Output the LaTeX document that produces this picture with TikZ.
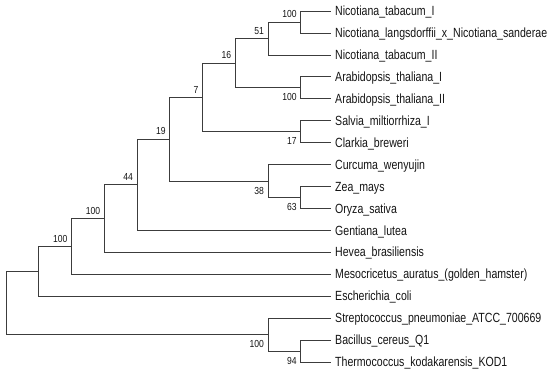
\documentclass[tikz,border=0pt]{standalone}
\usepackage{fontspec}
\newfontfamily\leaffont{Liberation Sans}[FakeStretch=0.795]
\newfontfamily\bsfont{Liberation Sans}[FakeStretch=0.84]
\usetikzlibrary{calc}
\definecolor{edgecol}{RGB}{60,60,60}
\definecolor{txtcol}{RGB}{20,20,20}
\begin{document}
\begin{tikzpicture}[x=1pt,y=-1pt,
  edge/.style={draw=edgecol,line width=0.8pt},
  leaf/.style={anchor=west,inner xsep=4pt,inner ysep=0pt,text height=9.5pt,text depth=0pt,
    font=\leaffont\fontsize{13.3}{14}\selectfont,text=txtcol},
  bsup/.style={anchor=base east,inner sep=0pt,font=\bsfont\fontsize{10.2}{11}\selectfont,text=txtcol},
  bsdown/.style={anchor=base east,inner sep=0pt,font=\bsfont\fontsize{10.2}{11}\selectfont,text=txtcol}]
\useasboundingbox (0,0) rectangle (550,373);
% leaves
\node[leaf] (l1) at (331,11) {Nicotiana\_tabacum\_I};
\node[leaf] (l2) at (331,32.9) {Nicotiana\_langsdorffii\_x\_Nicotiana\_sanderae};
\node[leaf] (l3) at (331,54.9) {Nicotiana\_tabacum\_II};
\node[leaf] (l4) at (331,76.8) {Arabidopsis\_thaliana\_I};
\node[leaf] (l5) at (331,98.7) {Arabidopsis\_thaliana\_II};
\node[leaf] (l6) at (331,120.7) {Salvia\_miltiorrhiza\_I};
\node[leaf] (l7) at (331,142.6) {Clarkia\_breweri};
\node[leaf] (l8) at (331,164.5) {Curcuma\_wenyujin};
\node[leaf] (l9) at (331,186.4) {Zea\_mays};
\node[leaf] (l10) at (331,208.4) {Oryza\_sativa};
\node[leaf] (l11) at (331,230.3) {Gentiana\_lutea};
\node[leaf] (l12) at (331,252.2) {Hevea\_brasiliensis};
\node[leaf] (l13) at (331,274.2) {Mesocricetus\_auratus\_(golden\_hamster)};
\node[leaf] (l14) at (331,296.1) {Escherichia\_coli};
\node[leaf] (l15) at (331,318) {Streptococcus\_pneumoniae\_ATCC\_700669};
\node[leaf] (l16) at (331,339.9) {Bacillus\_cereus\_Q1};
\node[leaf] (l17) at (331,361.9) {Thermococcus\_kodakarensis\_KOD1};
% internal nodes
\coordinate (root) at (6,302.8);
\coordinate (nc) at (38.75,271.2);
\coordinate (nb) at (71.5,246.3);
\coordinate (na) at (104.25,218.5);
\coordinate (n44) at (137,184.7);
\coordinate (n19) at (169.75,139.2);
\coordinate (n7) at (202.5,97.4);
\coordinate (n16) at (235.25,63.1);
\coordinate (n51) at (268,38.4);
\coordinate (nNic) at (300.75,21.95);
\coordinate (nArab) at (300.75,87.75);
\coordinate (n17) at (300.75,131.6);
\coordinate (n38) at (268,180.9);
\coordinate (n63) at (300.75,197.4);
\coordinate (nBact) at (268,334.5);
\coordinate (n94) at (300.75,350.9);
% edges
\draw[edge] (nNic) |- (l1.west);
\draw[edge] (nNic) |- (l2.west);
\draw[edge] (n51) |- (nNic);
\draw[edge] (n51) |- (l3.west);
\draw[edge] (nArab) |- (l4.west);
\draw[edge] (nArab) |- (l5.west);
\draw[edge] (n16) |- (n51);
\draw[edge] (n16) |- (nArab);
\draw[edge] (n17) |- (l6.west);
\draw[edge] (n17) |- (l7.west);
\draw[edge] (n7) |- (n16);
\draw[edge] (n7) |- (n17);
\draw[edge] (n63) |- (l9.west);
\draw[edge] (n63) |- (l10.west);
\draw[edge] (n38) |- (l8.west);
\draw[edge] (n38) |- (n63);
\draw[edge] (n19) |- (n7);
\draw[edge] (n19) |- (n38);
\draw[edge] (n44) |- (n19);
\draw[edge] (n44) |- (l11.west);
\draw[edge] (na) |- (n44);
\draw[edge] (na) |- (l12.west);
\draw[edge] (nb) |- (na);
\draw[edge] (nb) |- (l13.west);
\draw[edge] (nc) |- (nb);
\draw[edge] (nc) |- (l14.west);
\draw[edge] (n94) |- (l16.west);
\draw[edge] (n94) |- (l17.west);
\draw[edge] (nBact) |- (l15.west);
\draw[edge] (nBact) |- (n94);
\draw[edge] (root) |- (nc);
\draw[edge] (root) |- (nBact);
% bootstrap labels
\node[bsup] (bNic) at ($(nNic)+(-4,-4.3)$) {100};
\node[bsup] (b51) at ($(n51)+(-4,-4.3)$) {51};
\node[bsup] (b16) at ($(n16)+(-4,-4.3)$) {16};
\node[bsup] (b7) at ($(n7)+(-4,-4.3)$) {7};
\node[bsup] (b19) at ($(n19)+(-4,-4.3)$) {19};
\node[bsup] (b44) at ($(n44)+(-4,-4.3)$) {44};
\node[bsup] (ba) at ($(na)+(-4,-4.3)$) {100};
\node[bsup] (bb) at ($(nb)+(-4,-4.3)$) {100};
\node[bsdown] (bArab) at ($(nArab)+(-4,13.2)$) {100};
\node[bsdown] (b17) at ($(n17)+(-4,13.2)$) {17};
\node[bsdown] (b38) at ($(n38)+(-4,13.2)$) {38};
\node[bsdown] (b63) at ($(n63)+(-4,13.2)$) {63};
\node[bsdown] (bBact) at ($(nBact)+(-4,13.2)$) {100};
\node[bsdown] (b94) at ($(n94)+(-4,13.2)$) {94};
\end{tikzpicture}
\end{document}
